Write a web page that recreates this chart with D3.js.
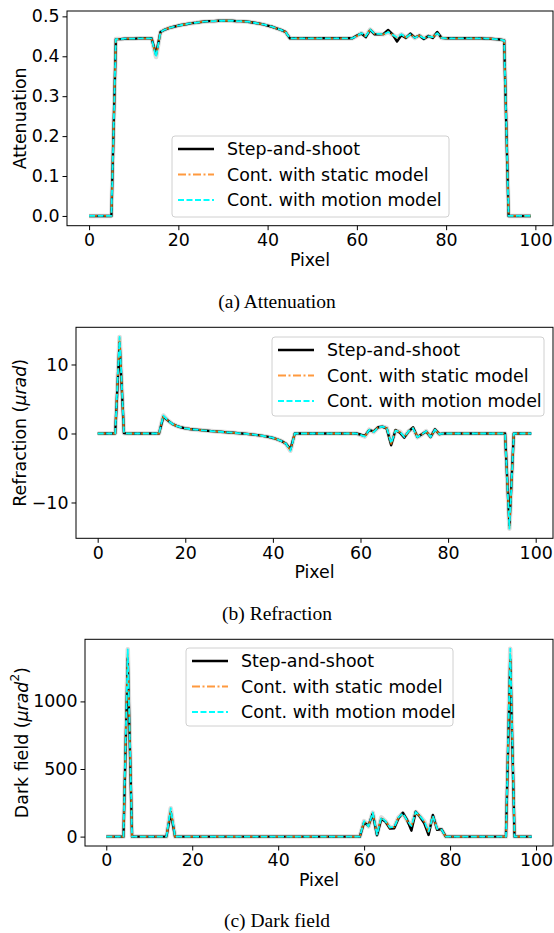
<!DOCTYPE html>
<html>
<head>
<meta charset="utf-8">
<script src="https://cdn.jsdelivr.net/npm/d3@7"></script>
<style>
  body { margin: 0; background: #fff; }
  svg text { font-family: "DejaVu Sans", sans-serif; fill: #000; }
</style>
</head>
<body>
<div id="chart"></div>
<script>
// pixel index along the profile
const pixel = d3.range(100);

const seriesNames = ["Step-and-shoot", "Cont. with static model", "Cont. with motion model"];
const xTicks = [0, 20, 40, 60, 80, 100];

// (a) attenuation
const attStep = [
  0, 0, 0, 0, 0, 0, 0.443, 0.443, 0.444, 0.444,
  0.444, 0.445, 0.445, 0.445, 0.445, 0.405, 0.461, 0.467, 0.471, 0.474,
  0.477, 0.479, 0.481, 0.483, 0.484, 0.486, 0.487, 0.488, 0.488, 0.489,
  0.489, 0.489, 0.489, 0.488, 0.488, 0.487, 0.486, 0.484, 0.482, 0.480,
  0.477, 0.474, 0.470, 0.466, 0.461, 0.445, 0.445, 0.445, 0.445, 0.445,
  0.445, 0.445, 0.445, 0.445, 0.445, 0.445, 0.445, 0.445, 0.445, 0.445,
  0.452, 0.457, 0.448, 0.466, 0.455, 0.455, 0.456, 0.466, 0.455, 0.437,
  0.453, 0.446, 0.457, 0.447, 0.452, 0.443, 0.451, 0.446, 0.461, 0.446,
  0.445, 0.445, 0.445, 0.445, 0.445, 0.445, 0.445, 0.445, 0.445, 0.444,
  0.444, 0.443, 0.442, 0.440, 0, 0, 0, 0, 0, 0];
const attStatic = [
  0, 0, 0, 0, 0, 0, 0.443, 0.443, 0.444, 0.444,
  0.444, 0.445, 0.445, 0.445, 0.445, 0.399, 0.461, 0.467, 0.471, 0.474,
  0.477, 0.479, 0.481, 0.483, 0.484, 0.486, 0.487, 0.488, 0.488, 0.489,
  0.489, 0.489, 0.489, 0.488, 0.488, 0.487, 0.486, 0.484, 0.482, 0.480,
  0.477, 0.474, 0.470, 0.466, 0.461, 0.445, 0.445, 0.445, 0.445, 0.445,
  0.445, 0.445, 0.445, 0.445, 0.445, 0.445, 0.445, 0.445, 0.445, 0.445,
  0.451, 0.457, 0.450, 0.467, 0.456, 0.456, 0.455, 0.462, 0.454, 0.446,
  0.455, 0.447, 0.455, 0.447, 0.452, 0.445, 0.450, 0.448, 0.458, 0.446,
  0.445, 0.445, 0.445, 0.445, 0.445, 0.445, 0.445, 0.445, 0.445, 0.444,
  0.444, 0.443, 0.442, 0.440, 0, 0, 0, 0, 0, 0];
const attMotion = [
  0, 0, 0, 0, 0, 0, 0.443, 0.443, 0.444, 0.444,
  0.444, 0.445, 0.445, 0.445, 0.445, 0.398, 0.461, 0.467, 0.471, 0.474,
  0.477, 0.479, 0.481, 0.483, 0.484, 0.486, 0.487, 0.488, 0.488, 0.489,
  0.489, 0.489, 0.489, 0.488, 0.488, 0.487, 0.486, 0.484, 0.482, 0.480,
  0.477, 0.474, 0.470, 0.466, 0.461, 0.445, 0.445, 0.445, 0.445, 0.445,
  0.445, 0.445, 0.445, 0.445, 0.445, 0.445, 0.445, 0.445, 0.445, 0.445,
  0.451, 0.458, 0.450, 0.467, 0.456, 0.456, 0.455, 0.461, 0.454, 0.447,
  0.455, 0.447, 0.455, 0.446, 0.452, 0.445, 0.450, 0.448, 0.458, 0.446,
  0.445, 0.445, 0.445, 0.445, 0.445, 0.445, 0.445, 0.445, 0.445, 0.444,
  0.444, 0.443, 0.442, 0.440, 0, 0, 0, 0, 0, 0];
const attTicks = [0, 0.1, 0.2, 0.3, 0.4, 0.5];

// (b) refraction (urad)
const refStep = [
  0, 0, 0, 0, 0, 13.2, 0.05, 0, 0, 0,
  0, 0, 0, 0, 0, 2.4, 1.9, 1.4, 1.1, 0.9,
  0.75, 0.65, 0.58, 0.52, 0.46, 0.40, 0.35, 0.30, 0.25, 0.20,
  0.15, 0.10, 0.05, 0, -0.05, -0.12, -0.2, -0.28, -0.38, -0.5,
  -0.65, -0.85, -1.1, -1.5, -2.3, 0, 0, 0, 0, 0,
  0, 0, 0, 0, 0, 0, 0, 0, 0, 0,
  -0.15, -0.35, 0.5, 0.3, 0.9, 1.0, 0.7, -1.7, 0.5, 0.1,
  -0.6, 0.3, 0.9, -0.5, -0.1, 0.3, -0.5, 0.6, -0.1, 0,
  0, 0, 0, 0, 0, 0, 0, 0, 0, 0,
  0, 0, 0, 0, -13.3, 0, 0, 0, 0, 0];
const refStatic = [
  0, 0, 0, 0, 0, 13.8, 0.05, 0, 0, 0,
  0, 0, 0, 0, 0, 2.5, 1.9, 1.4, 1.1, 0.9,
  0.75, 0.65, 0.58, 0.52, 0.46, 0.40, 0.35, 0.30, 0.25, 0.20,
  0.15, 0.10, 0.05, 0, -0.05, -0.12, -0.2, -0.28, -0.38, -0.5,
  -0.65, -0.85, -1.1, -1.5, -2.4, 0, 0, 0, 0, 0,
  0, 0, 0, 0, 0, 0, 0, 0, 0, 0,
  -0.2, -0.4, 0.55, 0.25, 0.9, 1.0, 0.75, -1.5, 0.45, 0.2,
  -0.5, 0.3, 0.8, -0.45, -0.1, 0.3, -0.45, 0.55, -0.1, 0,
  0, 0, 0, 0, 0, 0, 0, 0, 0, 0,
  0, 0, 0, 0, -13.7, 0, 0, 0, 0, 0];
const refMotion = [
  0, 0, 0, 0, 0, 14.0, 0.05, 0, 0, 0,
  0, 0, 0, 0, 0, 2.6, 1.9, 1.4, 1.1, 0.9,
  0.75, 0.65, 0.58, 0.52, 0.46, 0.40, 0.35, 0.30, 0.25, 0.20,
  0.15, 0.10, 0.05, 0, -0.05, -0.12, -0.2, -0.28, -0.38, -0.5,
  -0.65, -0.85, -1.1, -1.5, -2.5, 0, 0, 0, 0, 0,
  0, 0, 0, 0, 0, 0, 0, 0, 0, 0,
  -0.2, -0.45, 0.55, 0.2, 0.85, 1.0, 0.8, -1.4, 0.4, 0.25,
  -0.5, 0.35, 0.75, -0.55, -0.15, 0.35, -0.5, 0.55, -0.1, 0,
  0, 0, 0, 0, 0, 0, 0, 0, 0, 0,
  0, 0, 0, 0, -13.8, 0, 0, 0, 0, 0];
const refTicks = [-10, 0, 10];

// (c) dark field (urad^2)
const dfStep = [
  0, 0, 0, 0, 0, 1320, 0, 0, 0, 0,
  0, 0, 0, 0, 0, 180, 0, 0, 0, 0,
  0, 0, 0, 0, 0, 0, 0, 0, 0, 0,
  0, 0, 0, 0, 0, 0, 0, 0, 0, 0,
  0, 0, 0, 0, 0, 0, 0, 0, 0, 0,
  0, 0, 0, 0, 0, 0, 0, 0, 0, 0,
  105, 80, 170, 10, 130, 110, 60, 62, 135, 177,
  123, 44, 184, 147, 98, 12, 160, 50, 55, 0,
  0, 0, 0, 0, 0, 0, 0, 0, 0, 0,
  0, 0, 0, 0, 1310, 0, 0, 0, 0, 0];
const dfStatic = [
  0, 0, 0, 0, 0, 1350, 0, 0, 0, 0,
  0, 0, 0, 0, 0, 195, 0, 0, 0, 0,
  0, 0, 0, 0, 0, 0, 0, 0, 0, 0,
  0, 0, 0, 0, 0, 0, 0, 0, 0, 0,
  0, 0, 0, 0, 0, 0, 0, 0, 0, 0,
  0, 0, 0, 0, 0, 0, 0, 0, 0, 0,
  110, 75, 175, 20, 140, 115, 65, 70, 140, 170,
  118, 74, 180, 150, 110, 35, 150, 55, 50, 0,
  0, 0, 0, 0, 0, 0, 0, 0, 0, 0,
  0, 0, 0, 0, 1360, 0, 0, 0, 0, 0];
const dfMotion = [
  0, 0, 0, 0, 0, 1385, 0, 0, 0, 0,
  0, 0, 0, 0, 0, 210, 0, 0, 0, 0,
  0, 0, 0, 0, 0, 0, 0, 0, 0, 0,
  0, 0, 0, 0, 0, 0, 0, 0, 0, 0,
  0, 0, 0, 0, 0, 0, 0, 0, 0, 0,
  0, 0, 0, 0, 0, 0, 0, 0, 0, 0,
  115, 75, 178, 15, 142, 112, 68, 70, 142, 172,
  120, 78, 182, 152, 112, 38, 152, 58, 52, 0,
  0, 0, 0, 0, 0, 0, 0, 0, 0, 0,
  0, 0, 0, 0, 1390, 0, 0, 0, 0, 0];
const dfTicks = [0, 500, 1000];

// line styles, in the order of seriesNames
const styles = [
  {color: "#000000", width: 2.4, dash: null, opacity: 1},
  {color: "#ff7f0e", width: 1.8, dash: "8,2.5,2,2.5", opacity: 0.8},
  {color: "#00ffff", width: 1.8, dash: "6,2.5", opacity: 1}
];

const fs = "17.4px";
const minus = s => s.replace("-", "\u2212");

const panels = [
  {series: [attStep, attStatic, attMotion], yTicks: attTicks, fmt: d3.format(".1f"),
   left: 67, right: 553, top: 11, bottom: 225.7, ylabX: 20,
   ylab: [{t: "Attenuation"}],
   caption: "(a) Attenuation", capY: 308,
   legend: {x: 172, y: 136, w: 277, h: 81}},
  {series: [refStep, refStatic, refMotion], yTicks: refTicks, fmt: d => minus(String(d)),
   left: 76, right: 553, top: 327.3, bottom: 538.3, ylabX: 20,
   ylab: [{t: "Refraction ("}, {t: "\u03bcrad", it: true}, {t: ")"}],
   caption: "(b) Refraction", capY: 620,
   legend: {x: 272, y: 337, w: 272, h: 79}},
  {series: [dfStep, dfStatic, dfMotion], yTicks: dfTicks, fmt: d => String(d),
   left: 85, right: 553, top: 639.3, bottom: 846, ylabX: 22,
   ylab: [{t: "Dark field ("}, {t: "\u03bcrad", it: true}, {t: "2", sup: true}, {t: ")"}],
   caption: "(c) Dark field", capY: 927,
   legend: {x: 186, y: 648, w: 267, h: 78}}
];

const svg = d3.select("#chart")
  .append("svg")
    .attr("width", 554)
    .attr("height", 933);

panels.forEach(function(p) {
  const all = p.series.flat();
  const lo = d3.min(all), hi = d3.max(all);
  const padY = (hi - lo) * 0.05;

  const x = d3.scaleLinear()
    .domain([-4.95, 103.95])
    .range([p.left, p.right]);
  const y = d3.scaleLinear()
    .domain([lo - padY, hi + padY])
    .range([p.bottom, p.top]);

  const g = svg.append("g");

  // lines: a faint grey halo, then the three series
  const line = d3.line()
    .x((d, i) => x(pixel[i]))
    .y(d => y(d));

  g.append("path")
    .datum(p.series[2])
    .attr("d", line)
    .attr("fill", "none")
    .attr("stroke", "#dcdcdc")
    .attr("stroke-width", 4.5)
    .attr("stroke-linejoin", "round");

  p.series.forEach(function(s, k) {
    g.append("path")
      .datum(s)
      .attr("d", line)
      .attr("fill", "none")
      .attr("stroke", styles[k].color)
      .attr("stroke-opacity", styles[k].opacity)
      .attr("stroke-width", styles[k].width)
      .attr("stroke-dasharray", styles[k].dash)
      .attr("stroke-linejoin", "round");
  });

  // frame
  g.append("rect")
    .attr("x", p.left).attr("y", p.top)
    .attr("width", p.right - p.left).attr("height", p.bottom - p.top)
    .attr("fill", "none")
    .attr("stroke", "#000")
    .attr("stroke-width", 1);

  // axes
  const xAxis = g.append("g")
    .attr("transform", `translate(0,${p.bottom})`)
    .call(d3.axisBottom(x).tickValues(xTicks).tickSize(4.5).tickSizeOuter(0).tickPadding(3.5));
  const yAxis = g.append("g")
    .attr("transform", `translate(${p.left},0)`)
    .call(d3.axisLeft(y).tickValues(p.yTicks).tickFormat(p.fmt).tickSize(4.5).tickSizeOuter(0).tickPadding(3));
  [xAxis, yAxis].forEach(function(a) {
    a.select(".domain").remove();
    a.selectAll("text").style("font-size", fs).style("font-family", "DejaVu Sans");
    a.selectAll("line").attr("stroke", "#000").attr("stroke-width", 1);
  });

  g.append("text")
    .attr("x", (p.left + p.right) / 2)
    .attr("y", p.bottom + 34)
    .attr("text-anchor", "middle")
    .attr("dominant-baseline", "central")
    .style("font-size", fs)
    .text("Pixel");

  const yl = g.append("text")
    .attr("transform", `translate(${p.ylabX},${(p.top + p.bottom) / 2}) rotate(-90)`)
    .attr("text-anchor", "middle")
    .attr("dominant-baseline", "central")
    .style("font-size", fs);
  p.ylab.forEach(function(part) {
    const ts = yl.append("tspan").text(part.t);
    if (part.it) ts.style("font-style", "italic");
    if (part.sup) ts.attr("baseline-shift", "super").style("font-size", "12px");
  });

  // legend
  const L = p.legend;
  const lg = g.append("g").attr("transform", `translate(${L.x},${L.y})`);
  lg.append("rect")
    .attr("width", L.w).attr("height", L.h)
    .attr("rx", 3)
    .attr("fill", "#fff").attr("fill-opacity", 0.8)
    .attr("stroke", "#d0d0d0").attr("stroke-width", 1);
  seriesNames.forEach(function(name, k) {
    const cy = 13 + k * 25.5;
    lg.append("line")
      .attr("x1", 6).attr("x2", 42)
      .attr("y1", cy).attr("y2", cy)
      .attr("stroke", styles[k].color)
      .attr("stroke-opacity", styles[k].opacity)
      .attr("stroke-width", styles[k].width)
      .attr("stroke-dasharray", styles[k].dash);
    lg.append("text")
      .attr("x", 55).attr("y", cy)
      .attr("dominant-baseline", "central")
      .style("font-size", fs)
      .text(name);
  });

  // sub caption
  svg.append("text")
    .attr("x", 277)
    .attr("y", p.capY)
    .attr("text-anchor", "middle")
    .style("font-family", "'Liberation Serif', 'Times New Roman', serif")
    .style("font-size", "19.5px")
    .text(p.caption);
});
</script>
</body>
</html>
